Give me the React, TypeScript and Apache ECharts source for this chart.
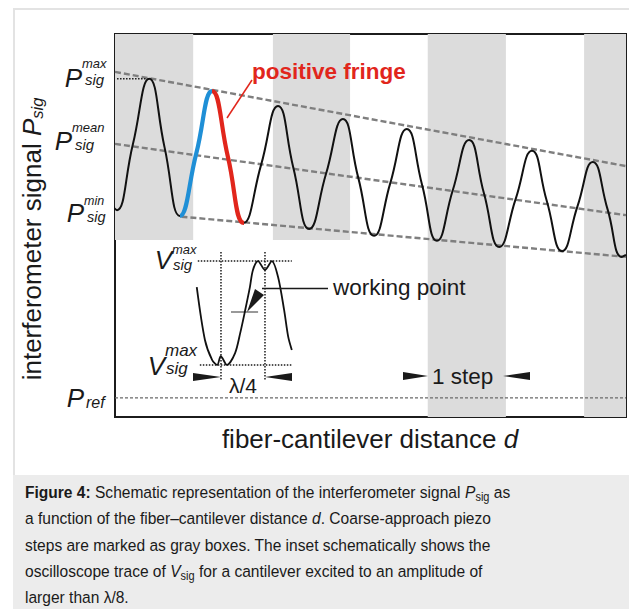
import React, { useEffect, useRef } from "react";
import * as echarts from "echarts";

const FONT = "'Liberation Sans', Arial, Helvetica, sans-serif";
const INK = "#1a1a1a";
const RED = "#e1261c";
const BLUE = "#1f8fd6";

// Interferometer signal vs. fiber-cantilever distance (a.u.): extremes and mid-level crossings
const fringeSignal: [number, number][] = [
  [-3.0, 72.0], [0.4, 54.0], [3.5, 71.2], [6.7, 88.3], [9.7, 70.4], [12.7, 52.5], [15.9, 68.8],
  [19.0, 85.1], [22.1, 67.9], [25.2, 50.7], [28.6, 65.9], [31.9, 81.2], [34.9, 65.1],
  [38.0, 49.1], [41.3, 63.5], [44.6, 77.8], [47.6, 62.5], [50.7, 47.3], [53.9, 61.2],
  [57.1, 75.2], [60.1, 60.6], [63.0, 46.0], [66.1, 59.2], [69.3, 72.3], [72.2, 58.4],
  [75.2, 44.4], [78.4, 56.9], [81.6, 69.5], [84.5, 56.4], [87.5, 43.3], [90.5, 55.0],
  [93.5, 66.6], [96.4, 54.2], [99.2, 41.8], [100, 42.3],
];

// The highlighted fringe: rising flank (blue) and falling flank (red)
const risingFlank: [number, number] = [12.7, 19.0];
const fallingFlank: [number, number] = [19.0, 25.2];

// Envelopes P_sig^max, P_sig^mean, P_sig^min
const envelopeMax: [number, number][] = [[0, 90.1], [100, 65.5]];
const envelopeMean: [number, number][] = [[0, 71.3], [100, 52.7]];
const envelopeMin: [number, number][] = [[13.0, 52.3], [100, 41.8]];
const maxMarker: [number, number][] = [[0.4, 88.3], [6.3, 88.3]];
const referenceLevel: [number, number][] = [[0, 5.0], [100, 5.0]];

// Coarse-approach piezo steps (gray boxes): start, end, lower edge
const stepStart = [0, 30.9, 61.2, 91.8];
const stepEnd = [15.3, 46.0, 76.5, 100];
const stepBottom = [46.2, 46.2, 0, 0];

// Inset: oscilloscope trace of V_sig
const insetTrace: [number, number][] = [
  [16.0, 33.9], [17.6, 20.1], [19.0, 14.9], [20.0, 13.6], [20.7, 15.9], [21.9, 13.6],
  [23.5, 16.7], [24.5, 21.9], [25.4, 27.4], [26.4, 33.9], [27.0, 38.4], [28.0, 40.7],
  [29.35, 38.4], [30.7, 40.7], [31.9, 36.6], [33.1, 27.9], [33.9, 20.9], [34.6, 17.5],
];
const insetTop: [number, number][] = [[16.2, 40.7], [34.6, 40.7]];
const insetBottom: [number, number][] = [[16.6, 13.6], [34.6, 13.6]];
const insetLeft: [number, number][] = [[20.74, 43.1], [20.74, 9.7]];
const insetRight: [number, number][] = [[29.35, 43.1], [29.35, 9.7]];
const workingPoint: [number, number][] = [[22.7, 27.4], [28.0, 27.4]];

const captionLines = [
  "{b|Figure 4:} Schematic representation of the interferometer signal {i|P}{s|sig} as",
  "a function of the fiber\u2013cantilever distance {i|d}. Coarse-approach piezo",
  "steps are marked as gray boxes. The inset schematically shows the",
  "oscilloscope trace of {i|V}{s|sig} for a cantilever excited to an amplitude of",
  "larger than \u03bb/8.",
];

const plain = (
  x: number,
  y: number,
  text: string,
  size: number,
  extra: Record<string, unknown> = {}
) => ({
  type: "text",
  x,
  y,
  z: 20,
  silent: true,
  style: {
    text,
    fontFamily: FONT,
    fontSize: size,
    fill: INK,
    verticalAlign: "middle",
    ...extra,
  },
});

// Symbol with super- and subscript: main glyph right-aligned at x
const symbolLabel = (
  main: string,
  x: number,
  y: number,
  sup: string | null,
  supY: number,
  supSize: number,
  sub: string,
  subX: number,
  subY: number,
  subSize: number
) => {
  const out: any[] = [plain(x, y, main, 26, { fontStyle: "italic", align: "right" })];
  if (sup) out.push(plain(x, supY, sup, supSize, { fontStyle: "italic", align: "left" }));
  out.push(plain(subX, subY, sub, subSize, { fontStyle: "italic", align: "left" }));
  return out;
};

const tri = (points: number[][]) => ({
  type: "polygon",
  z: 20,
  silent: true,
  shape: { points },
  style: { fill: INK },
});

const lineSeries = (data: [number, number][], color: string, width: number, type: any, z = 3) => ({
  type: "line",
  data,
  symbol: "none",
  z,
  silent: true,
  lineStyle: { color, width, type },
});

export default function App() {
  const ref = useRef<HTMLDivElement>(null);

  useEffect(() => {
    const chart = echarts.init(ref.current!, undefined, { renderer: "svg" });

    const boxes = stepStart.map((s, i) => [
      { xAxis: s, yAxis: stepBottom[i] },
      { xAxis: stepEnd[i], yAxis: 100 },
    ]);

    const captionRich = {
      b: { fontFamily: FONT, fontSize: 17, fontWeight: "bold", fill: INK, lineHeight: 22 },
      i: { fontFamily: FONT, fontSize: 17, fontStyle: "italic", fill: INK, lineHeight: 22 },
      s: { fontFamily: FONT, fontSize: 12, fill: INK, verticalAlign: "bottom", lineHeight: 22 },
    };

    const graphic: any[] = [
      {
        type: "polyline",
        z: 1,
        silent: true,
        shape: { points: [[14, 475], [14, 9], [629, 9]] },
        style: { stroke: "#e3e3e3", lineWidth: 2, fill: null },
      },
      {
        type: "rect",
        z: 1,
        silent: true,
        shape: { x: 13, y: 475, width: 616, height: 134 },
        style: { fill: "#ececec" },
      },
      // leader to the highlighted fringe
      {
        type: "line",
        z: 20,
        silent: true,
        shape: { x1: 252, y1: 80, x2: 227, y2: 118 },
        style: { stroke: RED, lineWidth: 1.5 },
      },
      plain(252, 71, "positive fringe", 22.5, { fill: RED, fontWeight: "bold" }),
      ...symbolLabel("P", 82, 78, "max", 63, 13, "sig", 85, 79, 15),
      ...symbolLabel("P", 72, 141, "mean", 127, 13, "sig", 75, 144, 15),
      ...symbolLabel("P", 84, 213, "min", 200.5, 12.5, "sig", 87, 217, 14.5),
      ...symbolLabel("P", 84, 398, null, 0, 0, "ref", 86, 402, 16),
      ...symbolLabel("V", 172, 260, "max", 249, 13, "sig", 173, 264, 15),
      ...symbolLabel("V", 165, 366, "max", 350, 17, "sig", 166, 368, 17),
      // lambda/4 marker
      tri([[193, 373], [221, 377], [193, 381]]),
      tri([[292, 373], [265, 377], [292, 381]]),
      plain(243, 385, "\u03bb/4", 21, { align: "center" }),
      // working point callout
      {
        type: "line",
        z: 20,
        silent: true,
        shape: { x1: 262, y1: 288.5, x2: 328, y2: 288.5 },
        style: { stroke: INK, lineWidth: 1.5 },
      },
      tri([[247, 312], [255, 289], [264, 295]]),
      plain(333, 287, "working point", 22.5),
      // one coarse step
      tri([[403, 372], [428, 376], [403, 380]]),
      tri([[530, 372], [503, 376], [530, 380]]),
      plain(432, 376, "1 step", 22.5),
      // axis titles
      {
        type: "text",
        x: 32,
        y: 239,
        rotation: Math.PI / 2,
        z: 20,
        silent: true,
        style: {
          text: "{t|interferometer signal }{i|P}{s|sig}",
          align: "center",
          verticalAlign: "middle",
          rich: {
            t: { fontFamily: FONT, fontSize: 26, fill: INK, lineHeight: 26 },
            i: { fontFamily: FONT, fontSize: 26, fontStyle: "italic", fill: INK, lineHeight: 26 },
            s: { fontFamily: FONT, fontSize: 16.5, fontStyle: "italic", fill: INK, verticalAlign: "bottom", lineHeight: 26 },
          },
        },
      },
      {
        type: "text",
        x: 370,
        y: 439,
        z: 20,
        silent: true,
        style: {
          text: "{t|fiber-cantilever distance }{i|d}",
          align: "center",
          verticalAlign: "middle",
          rich: {
            t: { fontFamily: FONT, fontSize: 26, fill: INK },
            i: { fontFamily: FONT, fontSize: 26, fontStyle: "italic", fill: INK },
          },
        },
      },
      ...captionLines.map((line, k) => ({
        type: "text",
        x: 25,
        y: 492 + k * 26.2,
        scaleX: 0.915,
        z: 20,
        silent: true,
        style: {
          text: line,
          fontFamily: FONT,
          fontSize: 17,
          fill: INK,
          lineHeight: 22,
          verticalAlign: "middle",
          rich: captionRich,
        },
      })),
    ];

    chart.setOption({
      animation: false,
      backgroundColor: "#ffffff",
      grid: {
        left: 115,
        top: 34,
        width: 511,
        height: 383,
        show: true,
        backgroundColor: "#ffffff",
        borderColor: "#1c1c1c",
        borderWidth: 2,
      },
      xAxis: { type: "value", min: 0, max: 100, show: false },
      yAxis: { type: "value", min: 0, max: 100, show: false },
      visualMap: {
        show: false,
        type: "piecewise",
        seriesIndex: 6,
        dimension: 0,
        pieces: [
          { gte: risingFlank[0], lt: risingFlank[1], color: BLUE },
          { gte: fallingFlank[0], lte: fallingFlank[1], color: RED },
        ],
        outOfRange: { color: "rgba(0,0,0,0)" },
      },
      series: [
        {
          ...lineSeries(referenceLevel, "#6a6a6a", 1.2, [3, 2]),
          markArea: {
            silent: true,
            z: 0,
            itemStyle: { color: "#dcdcdc" },
            data: boxes,
          },
        },
        lineSeries(envelopeMax, "#7f7f7f", 2.4, [6, 3]),
        lineSeries(envelopeMean, "#7f7f7f", 2.4, [6, 3]),
        lineSeries(envelopeMin, "#7f7f7f", 2.4, [6, 3]),
        lineSeries(maxMarker, INK, 1.5, "dotted"),
        { ...lineSeries(fringeSignal, "#111111", 2, "solid", 5), smooth: 0.5 },
        {
          type: "line",
          data: fringeSignal,
          symbol: "none",
          z: 6,
          silent: true,
          smooth: 0.5,
          lineStyle: { width: 4.2 },
        },
        { ...lineSeries(insetTrace, "#111111", 1.8, "solid", 5), smooth: 0.3 },
        lineSeries(insetTop, INK, 1.5, "dotted"),
        lineSeries(insetBottom, INK, 1.5, "dotted"),
        lineSeries(insetLeft, INK, 1.5, "dotted"),
        lineSeries(insetRight, INK, 1.5, "dotted"),
        lineSeries(workingPoint, "#777777", 1.5, "solid"),
      ],
      graphic,
    });

    return () => chart.dispose();
  }, []);

  return (
    <div
      ref={ref}
      style={{ position: "fixed", left: 0, top: 0, width: 629, height: 609, background: "#fff" }}
    />
  );
}
